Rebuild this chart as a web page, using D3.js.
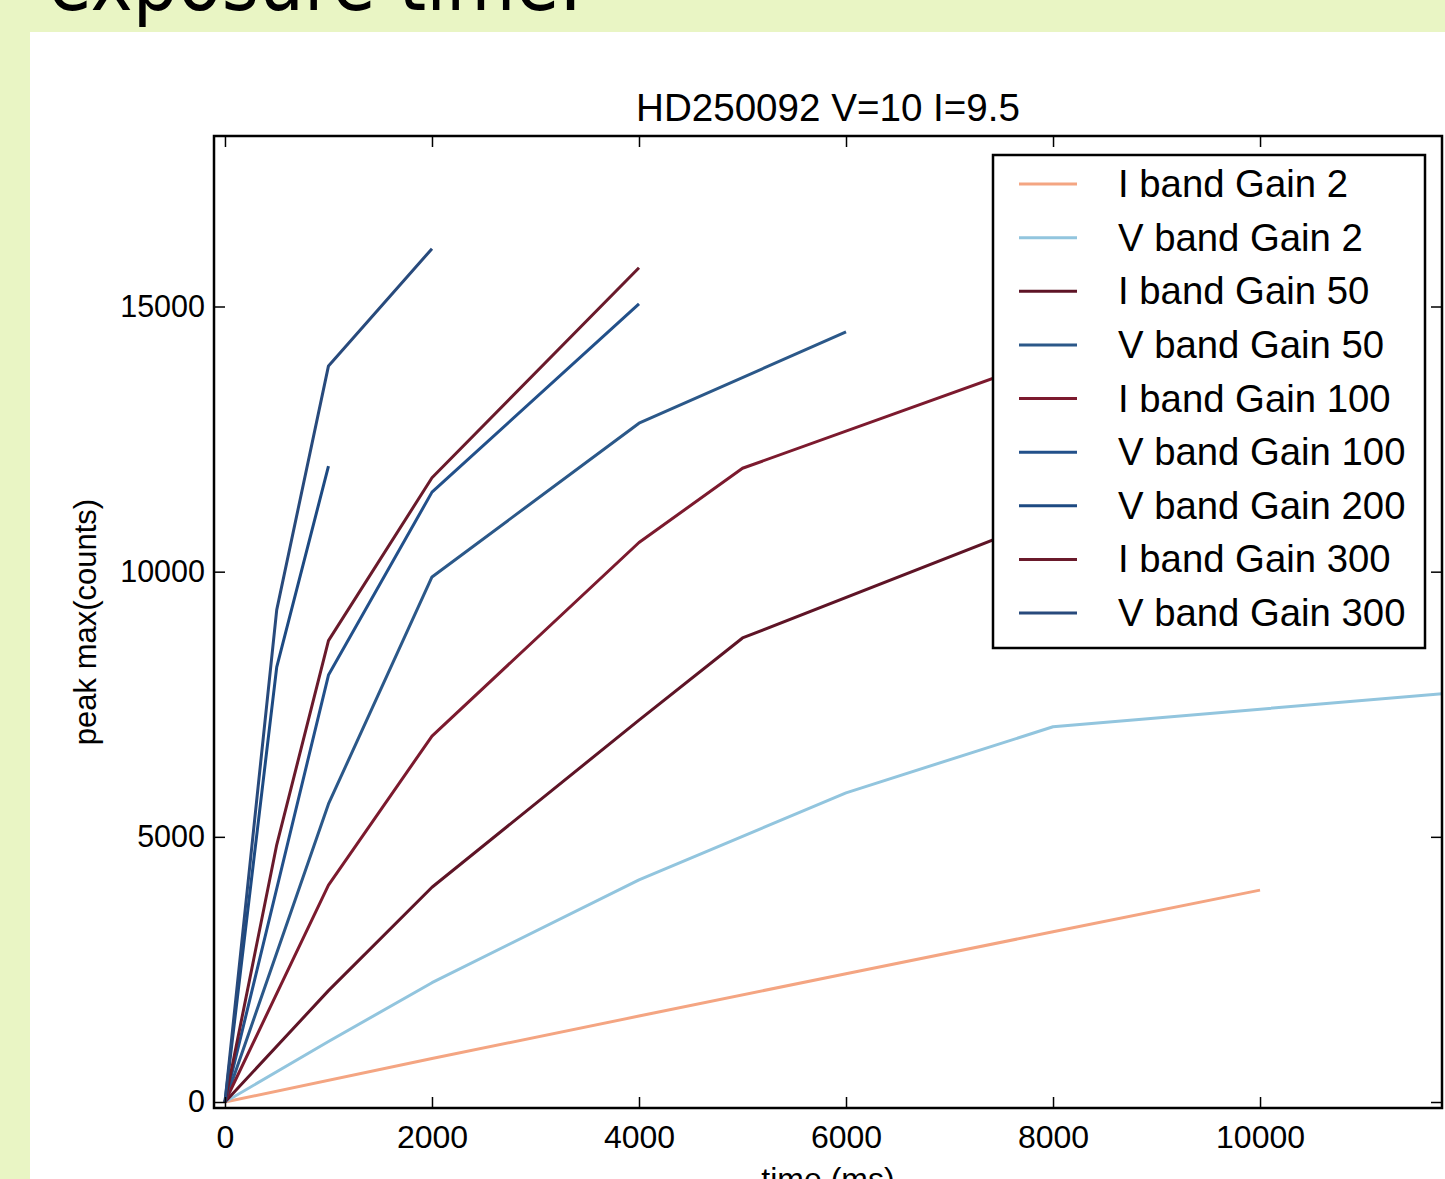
<!DOCTYPE html>
<html>
<head>
<meta charset="utf-8">
<script src="https://cdn.jsdelivr.net/npm/d3@7"></script>
<style>
  html, body { margin: 0; padding: 0; background: #e9f5c4; }
  svg { display: block; }
</style>
</head>
<body>
<svg id="chart" width="1445" height="1179"></svg>
<script>
// exposure time (ms) vs peak max (counts)
const iBandGain2   = [[0, 0], [2000, 820], [4000, 1620], [6000, 2420], [8000, 3210], [10000, 3995]];
const vBandGain2   = [[0, 0], [1000, 1140], [2000, 2250], [4000, 4190], [6000, 5830], [8000, 7075], [12000, 7740]];
const iBandGain50  = [[0, 0], [1000, 2100], [2000, 4050], [4000, 7200], [5000, 8750], [8000, 11040]];
const vBandGain50  = [[0, 0], [1000, 5620], [2000, 9900], [4000, 12800], [6000, 14520]];
const iBandGain100 = [[0, 0], [1000, 4090], [2000, 6900], [4000, 10550], [5000, 11950], [8000, 14050]];
const vBandGain100 = [[0, 0], [1000, 8050], [2000, 11500], [4000, 15050]];
const vBandGain200 = [[0, 0], [500, 8200], [1000, 11990]];
const iBandGain300 = [[0, 0], [500, 4850], [1000, 8700], [2000, 11770], [4000, 15730]];
const vBandGain300 = [[0, 0], [500, 9280], [1000, 13880], [2000, 16090]];

const seriesNames = ["I band Gain 2", "V band Gain 2", "I band Gain 50", "V band Gain 50",
  "I band Gain 100", "V band Gain 100", "V band Gain 200", "I band Gain 300", "V band Gain 300"];
const seriesData = [iBandGain2, vBandGain2, iBandGain50, vBandGain50,
  iBandGain100, vBandGain100, vBandGain200, iBandGain300, vBandGain300];
const seriesColors = ["#f4a582", "#92c5de", "#5e1426", "#2b5889",
  "#7c1a2e", "#22508a", "#1d4a82", "#6a1a2b", "#284a7c"];

const xTicks = [0, 2000, 4000, 6000, 8000, 10000];
const yTicks = [0, 5000, 10000, 15000];
const xLimits = [-106, 11758];
const yLimits = [-113, 18215];

const font = "'Liberation Sans', Arial, Helvetica, sans-serif";
const svg = d3.select('#chart');

// slide heading, cut off at the top of the shot
svg.append('text')
    .attr('x', 48)
    .attr('y', 10)
    .attr('font-family', "'DejaVu Sans', sans-serif")
    .attr('font-size', 82)
    .attr('textLength', 534)
    .attr('lengthAdjust', 'spacingAndGlyphs')
    .attr('fill', '#000')
    .text('exposure time.');

// white figure panel
svg.append('rect')
    .attr('x', 30).attr('y', 32)
    .attr('width', 1445 - 30).attr('height', 1179 - 32)
    .attr('fill', '#fff');

const plotLeft = 214, plotRight = 1442, plotTop = 136, plotBottom = 1108;

const x = d3.scaleLinear().domain(xLimits).range([plotLeft, plotRight]);
const y = d3.scaleLinear().domain(yLimits).range([plotBottom, plotTop]);

svg.append('defs').append('clipPath')
    .attr('id', 'plot-clip')
    .append('rect')
    .attr('x', plotLeft).attr('y', plotTop)
    .attr('width', plotRight - plotLeft).attr('height', plotBottom - plotTop);

// lines
const line = d3.line().x(d => x(d[0])).y(d => y(d[1]));
const lines = svg.append('g').attr('clip-path', 'url(#plot-clip)');
seriesData.forEach((s, i) => {
    lines.append('path')
        .attr('d', line(s))
        .attr('fill', 'none')
        .attr('stroke', seriesColors[i])
        .attr('stroke-width', 3)
        .attr('stroke-linejoin', 'round');
});

// axes, ticks pointing inward on all four sides
const tickLen = 11;
function styleAxis(g) {
    g.select('.domain').remove();
    g.selectAll('.tick line').attr('stroke', '#000').attr('stroke-width', 1.5);
    g.selectAll('.tick text').attr('fill', '#000');
}

svg.append('g')
    .attr('transform', `translate(0,${plotBottom})`)
    .call(d3.axisBottom(x).tickValues(xTicks).tickSize(-tickLen).tickPadding(17).tickFormat(d3.format('d')))
    .attr('font-family', font).attr('font-size', 32)
    .call(styleAxis);

svg.append('g')
    .attr('transform', `translate(0,${plotTop})`)
    .call(d3.axisTop(x).tickValues(xTicks).tickSize(-tickLen).tickFormat(''))
    .call(styleAxis);

svg.append('g')
    .attr('transform', `translate(${plotLeft},0)`)
    .call(d3.axisLeft(y).tickValues(yTicks).tickSize(-tickLen).tickPadding(9).tickFormat(d3.format('d')))
    .attr('font-family', font).attr('font-size', 30.5)
    .call(styleAxis);

svg.append('g')
    .attr('transform', `translate(${plotRight},0)`)
    .call(d3.axisRight(y).tickValues(yTicks).tickSize(-tickLen).tickFormat(''))
    .call(styleAxis);

// frame
svg.append('rect')
    .attr('x', plotLeft).attr('y', plotTop)
    .attr('width', plotRight - plotLeft).attr('height', plotBottom - plotTop)
    .attr('fill', 'none')
    .attr('stroke', '#000')
    .attr('stroke-width', 2.5);

// title and labels
svg.append('text')
    .attr('x', (plotLeft + plotRight) / 2)
    .attr('y', 121)
    .attr('text-anchor', 'middle')
    .attr('font-family', font)
    .attr('font-size', 38.6)
    .text('HD250092 V=10 I=9.5');

svg.append('text')
    .attr('x', (plotLeft + plotRight) / 2)
    .attr('y', 1190)
    .attr('text-anchor', 'middle')
    .attr('font-family', font)
    .attr('font-size', 32)
    .text('time (ms)');

svg.append('text')
    .attr('transform', `translate(96,${(plotTop + plotBottom) / 2}) rotate(-90)`)
    .attr('text-anchor', 'middle')
    .attr('font-family', font)
    .attr('font-size', 31)
    .text('peak max(counts)');

// legend
const legend = svg.append('g');
legend.append('rect')
    .attr('x', 993).attr('y', 155)
    .attr('width', 1425 - 993).attr('height', 648 - 155)
    .attr('fill', '#fff')
    .attr('stroke', '#000')
    .attr('stroke-width', 2.5);

const rowY = d3.scalePoint().domain(seriesNames).range([184, 613]);
seriesNames.forEach((name, i) => {
    const yy = rowY(name);
    legend.append('line')
        .attr('x1', 1019).attr('x2', 1077)
        .attr('y1', yy).attr('y2', yy)
        .attr('stroke', seriesColors[i])
        .attr('stroke-width', 3);
    legend.append('text')
        .attr('x', 1118)
        .attr('y', yy + 13)
        .attr('font-family', font)
        .attr('font-size', 38.3)
        .text(name);
});
</script>
</body>
</html>
